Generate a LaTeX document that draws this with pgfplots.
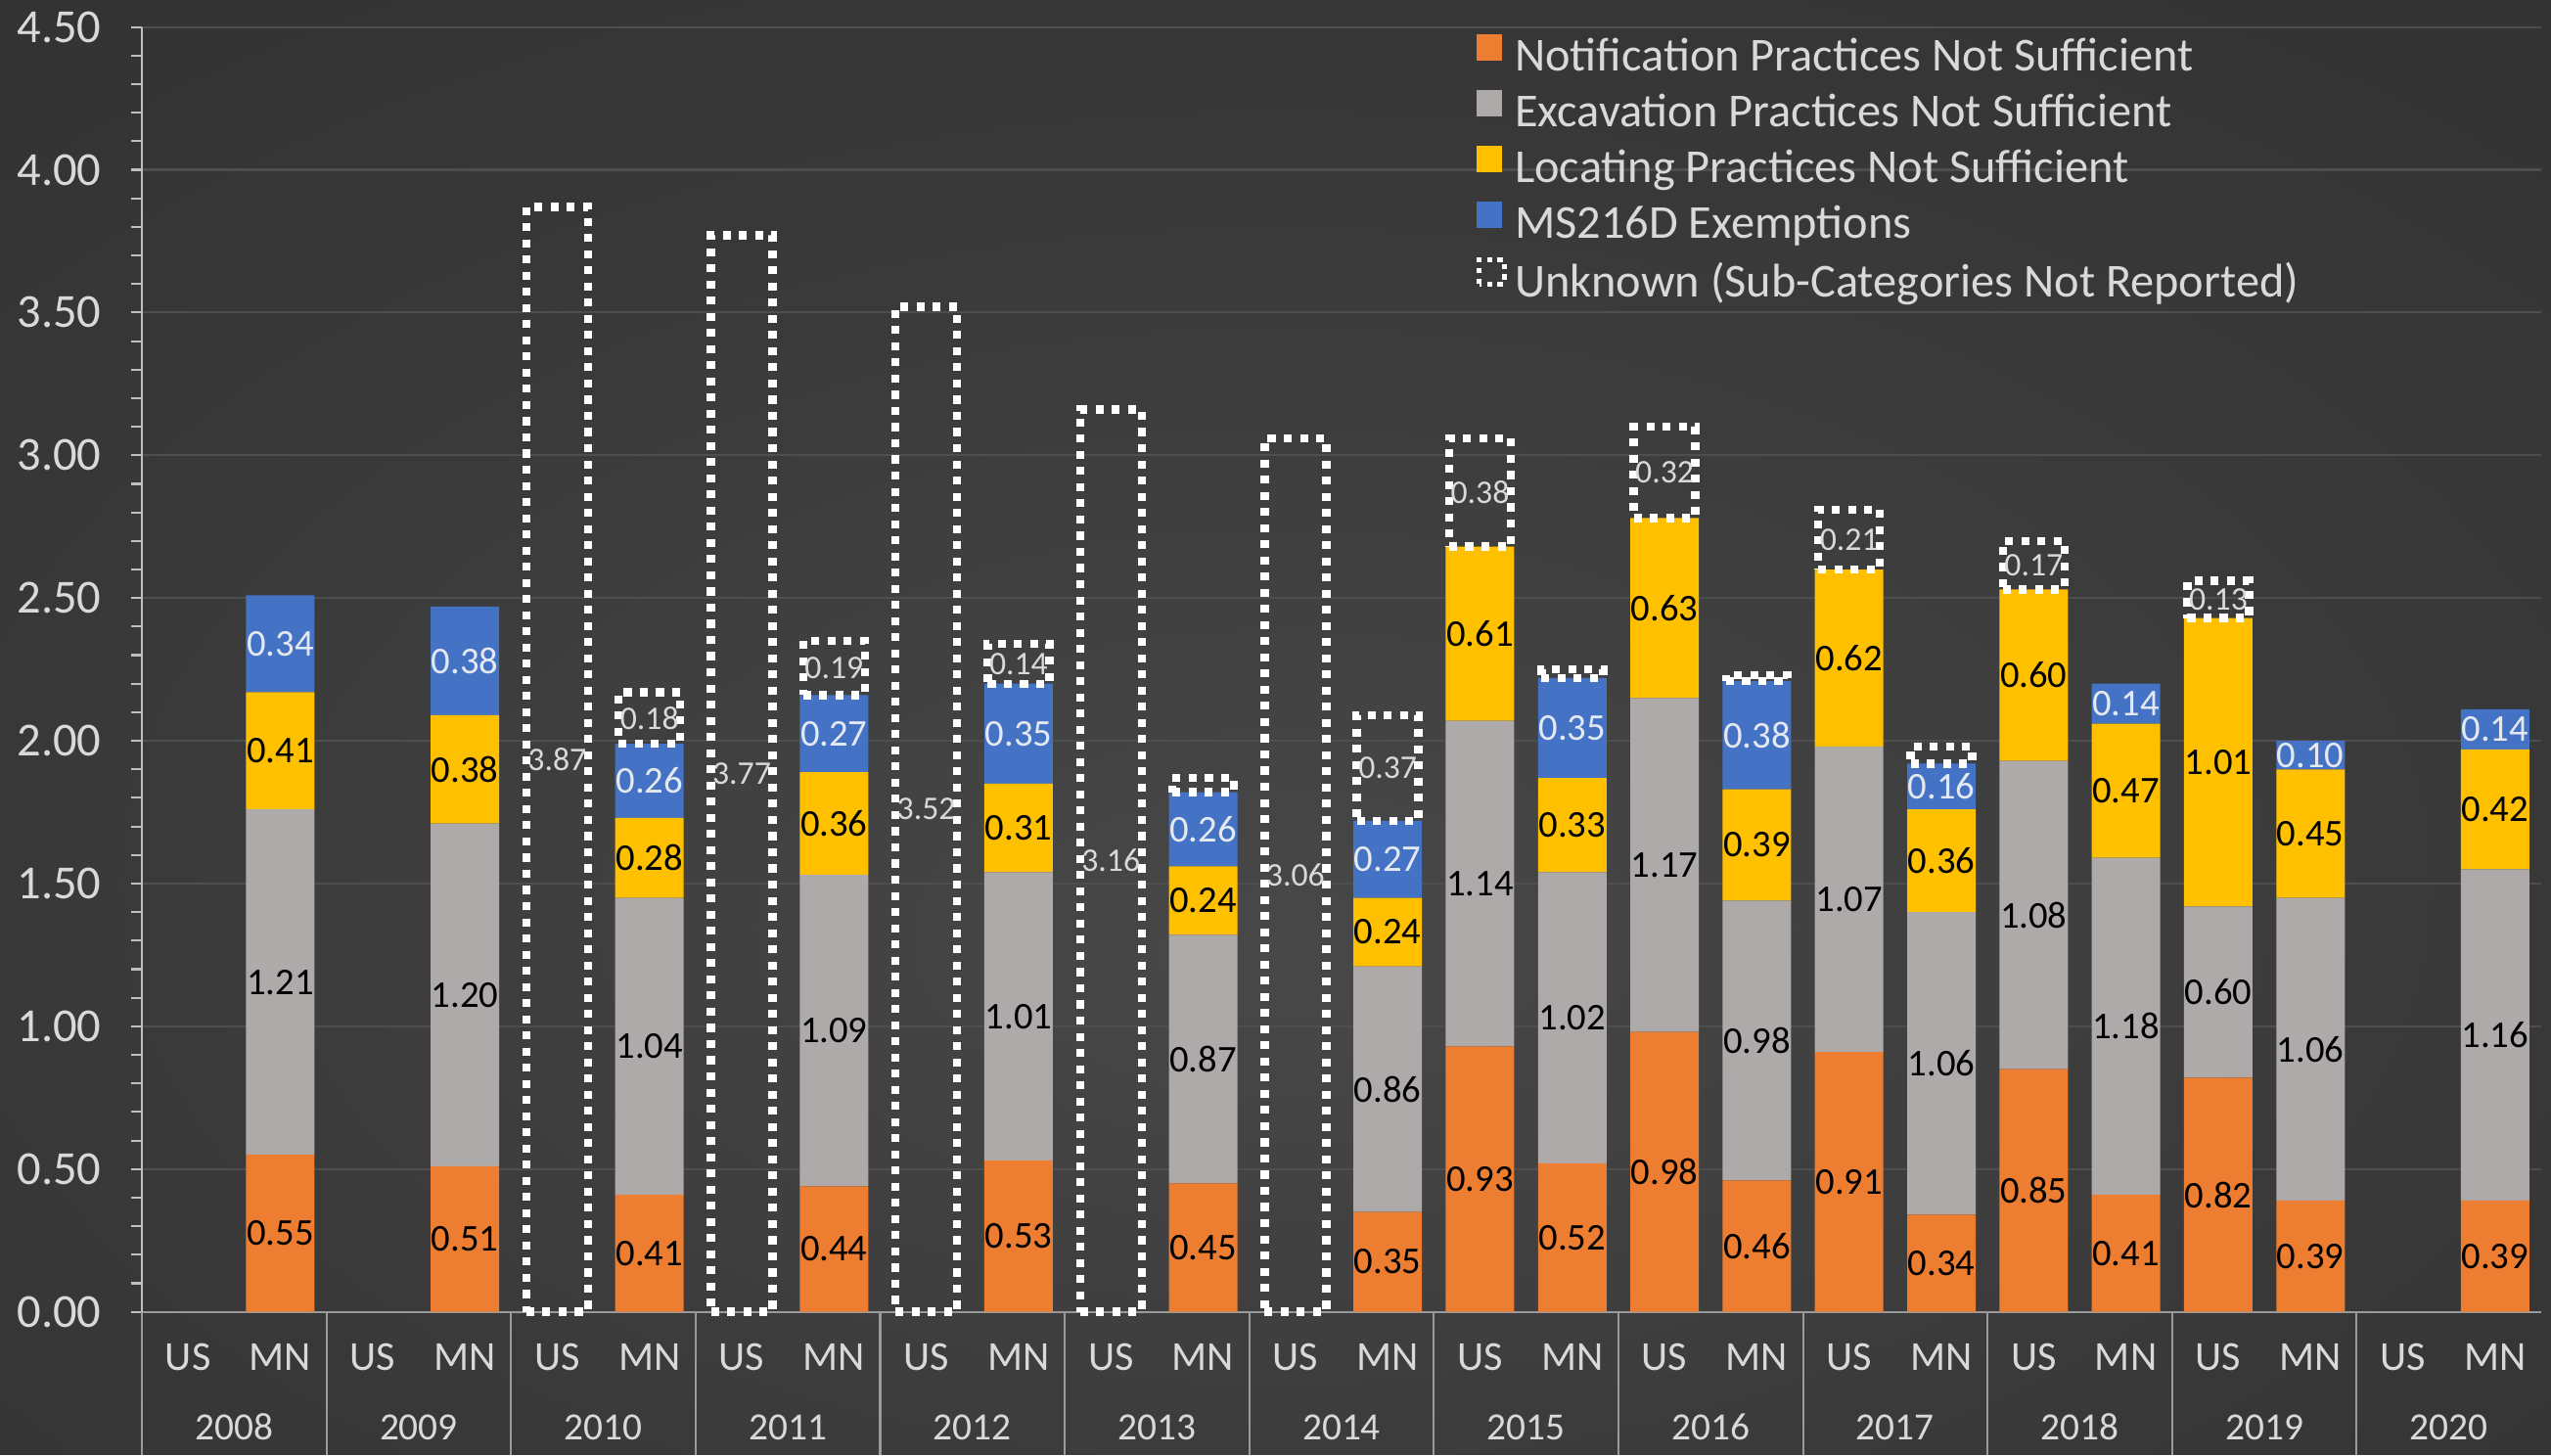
\documentclass[border=0pt]{standalone}
\usepackage{pgfplots}
\pgfplotsset{compat=1.18}
\usepackage{pgfplotstable}
\usepackage{fontspec}
\setmainfont{Carlito}

\definecolor{cOrange}{HTML}{ED7D31}
\definecolor{cGray}{HTML}{AEAAAA}
\definecolor{cYellow}{HTML}{FFC000}
\definecolor{cBlue}{HTML}{4472C4}
\definecolor{cText}{HTML}{D9D9D9}
\definecolor{cBlueText}{HTML}{E4E8F0}
\definecolor{cGrid}{HTML}{4E4E4E}
\definecolor{cAxis}{HTML}{BFBFBF}
\definecolor{cSep}{HTML}{9A9A9A}
\definecolor{bgIn}{HTML}{484848}
\definecolor{bgMid}{HTML}{383838}
\definecolor{bgOut}{HTML}{262626}
\pgfdeclareradialshading{bgshade}{\pgfpoint{0bp}{-8bp}}{color(0bp)=(bgIn); color(25bp)=(bgMid); color(70bp)=(bgOut)}

\pgfplotstableread{
x y lab
0 0 {}
1 0.55 0.55
2 0 {}
3 0.51 0.51
4 0 {}
5 0.41 0.41
6 0 {}
7 0.44 0.44
8 0 {}
9 0.53 0.53
10 0 {}
11 0.45 0.45
12 0 {}
13 0.35 0.35
14 0.93 0.93
15 0.52 0.52
16 0.98 0.98
17 0.46 0.46
18 0.91 0.91
19 0.34 0.34
20 0.85 0.85
21 0.41 0.41
22 0.82 0.82
23 0.39 0.39
24 0 {}
25 0.39 0.39
}\notif

\pgfplotstableread{
x y lab
0 0 {}
1 1.21 1.21
2 0 {}
3 1.20 1.20
4 0 {}
5 1.04 1.04
6 0 {}
7 1.09 1.09
8 0 {}
9 1.01 1.01
10 0 {}
11 0.87 0.87
12 0 {}
13 0.86 0.86
14 1.14 1.14
15 1.02 1.02
16 1.17 1.17
17 0.98 0.98
18 1.07 1.07
19 1.06 1.06
20 1.08 1.08
21 1.18 1.18
22 0.60 0.60
23 1.06 1.06
24 0 {}
25 1.16 1.16
}\excav

\pgfplotstableread{
x y lab
0 0 {}
1 0.41 0.41
2 0 {}
3 0.38 0.38
4 0 {}
5 0.28 0.28
6 0 {}
7 0.36 0.36
8 0 {}
9 0.31 0.31
10 0 {}
11 0.24 0.24
12 0 {}
13 0.24 0.24
14 0.61 0.61
15 0.33 0.33
16 0.63 0.63
17 0.39 0.39
18 0.62 0.62
19 0.36 0.36
20 0.60 0.60
21 0.47 0.47
22 1.01 1.01
23 0.45 0.45
24 0 {}
25 0.42 0.42
}\locat

\pgfplotstableread{
x y lab
0 0 {}
1 0.34 0.34
2 0 {}
3 0.38 0.38
4 0 {}
5 0.26 0.26
6 0 {}
7 0.27 0.27
8 0 {}
9 0.35 0.35
10 0 {}
11 0.26 0.26
12 0 {}
13 0.27 0.27
14 0 {}
15 0.35 0.35
16 0 {}
17 0.38 0.38
18 0 {}
19 0.16 0.16
20 0 {}
21 0.14 0.14
22 0 {}
23 0.10 0.10
24 0 {}
25 0.14 0.14
}\exempt

% unknown: base = stacked total below the box, u = unknown value
\pgfplotstableread{
x b u lab
4 0 3.87 3.87
5 1.99 0.18 0.18
6 0 3.77 3.77
7 2.16 0.19 0.19
8 0 3.52 3.52
9 2.20 0.14 0.14
10 0 3.16 3.16
11 1.82 0.05 {}
12 0 3.06 3.06
13 1.72 0.37 0.37
14 2.68 0.38 0.38
15 2.22 0.03 {}
16 2.78 0.32 0.32
17 2.21 0.02 {}
18 2.60 0.21 0.21
19 1.92 0.06 {}
20 2.53 0.17 0.17
22 2.43 0.13 0.13
}\unk

\pgfplotsset{
  sqlegend/.style={legend image code/.code={\fill[##1,draw=none] (0pt,0pt) rectangle (7.4pt,7.7pt);}},
  dotbox/.style={draw=white, line width=2.4pt, dash pattern=on 2.3pt off 2.4pt, line cap=butt, fill=none},
  common/.style={
    scale only axis, width=245.2mm, height=131.3mm,
    xmin=-0.5, xmax=25.5, ymin=0, ymax=4.5,
    clip=false,
  },
  seglab/.style={
    point meta=explicit symbolic,
    nodes near coords,
    every node near coord/.append style={anchor=center, inner sep=0pt},
  },
}

\begin{document}
\begin{tikzpicture}
\path[shading=bgshade] (-14.5mm,-14.6mm) rectangle (246.2mm,134.0mm);

\begin{axis}[
  common,
  ybar stacked, bar width=7mm,
  axis lines*=left,
  x axis line style={cSep, line width=0.6pt},
  y axis line style={cAxis, line width=0.6pt},
  ytick={0,0.5,...,4.5},
  minor y tick num=4,
  tick align=outside,
  major tick length=1.1mm, minor tick length=1.1mm,
  ytick style={cAxis, line width=0.6pt},
  xtick style={draw=none},
  ymajorgrids,
  major grid style={cGrid, line width=0.6pt},
  yticklabel style={text=cText, font=\fontsize{13.8}{16}\selectfont, xshift=-1.8mm,
     /pgf/number format/.cd, fixed, fixed zerofill, precision=2, assume math mode=true},
  xtick={0,...,25},
  xticklabels={US,MN,US,MN,US,MN,US,MN,US,MN,US,MN,US,MN,US,MN,US,MN,US,MN,US,MN,US,MN,US,MN},
  xticklabel style={text=cText, font=\fontsize{12}{14}\selectfont, anchor=base, yshift=-4.9mm},
  extra x ticks={0.5,2.5,4.5,6.5,8.5,10.5,12.5,14.5,16.5,18.5,20.5,22.5,24.5},
  extra x tick labels={2008,2009,2010,2011,2012,2013,2014,2015,2016,2017,2018,2019,2020},
  extra x tick style={grid=none, major tick length=0pt, xticklabel style={yshift=-8.2mm, font=\fontsize{11.2}{13}\selectfont}},
  legend style={at={(0.556,0.995)}, anchor=north west, draw=none, fill=none, inner sep=0pt,
     text=cText, font=\fontsize{13.75}{16}\selectfont, row sep=2.5pt,
     nodes={inner sep=0pt, text height=9pt, text depth=3pt},
     /tikz/every odd column/.append style={column sep=2.4pt}},
  legend cell align=left,
]
\addplot[fill=cOrange, draw=none, sqlegend, seglab, every node near coord/.append style={text=black, font=\fontsize{11}{12}\selectfont}] table[x=x,y=y,meta=lab]{\notif};
\addlegendentry{Notification Practices Not Sufficient}
\addplot[fill=cGray, draw=none, sqlegend, seglab, every node near coord/.append style={text=black, font=\fontsize{11}{12}\selectfont}] table[x=x,y=y,meta=lab]{\excav};
\addlegendentry{Excavation Practices Not Sufficient}
\addplot[fill=cYellow, draw=none, sqlegend, seglab, every node near coord/.append style={text=black, font=\fontsize{11}{12}\selectfont}] table[x=x,y=y,meta=lab]{\locat};
\addlegendentry{Locating Practices Not Sufficient}
\addplot[fill=cBlue, draw=none, sqlegend, seglab, every node near coord/.append style={text=cBlueText, font=\fontsize{11}{12}\selectfont}] table[x=x,y=y,meta=lab]{\exempt};
\addlegendentry{MS216D Exemptions}
\addlegendimage{legend image code/.code={\draw[white, line width=1.5pt, dash pattern=on 1.6pt off 1.5pt] (0.8pt,0.9pt) rectangle (8pt,8pt);}}
\addlegendentry{Unknown (Sub-Categories Not Reported)}

\pgfplotsinvokeforeach{-0.5,1.5,3.5,5.5,7.5,9.5,11.5,13.5,15.5,17.5,19.5,21.5,23.5}{
  \draw[cSep, line width=0.6pt] (axis cs:#1,0) -- ++(0pt,-14.6mm);
}
\end{axis}

\begin{axis}[
  common, hide axis,
  ybar stacked, bar width=6.3mm,
]
\addplot[draw=none, fill=none] table[x=x,y=b]{\unk};
\addplot[dotbox, seglab,
  every node near coord/.append style={font=\fontsize{9.6}{11}\selectfont, text=cText},
] table[x=x,y=u,meta=lab]{\unk};
\end{axis}
\end{tikzpicture}
\end{document}
